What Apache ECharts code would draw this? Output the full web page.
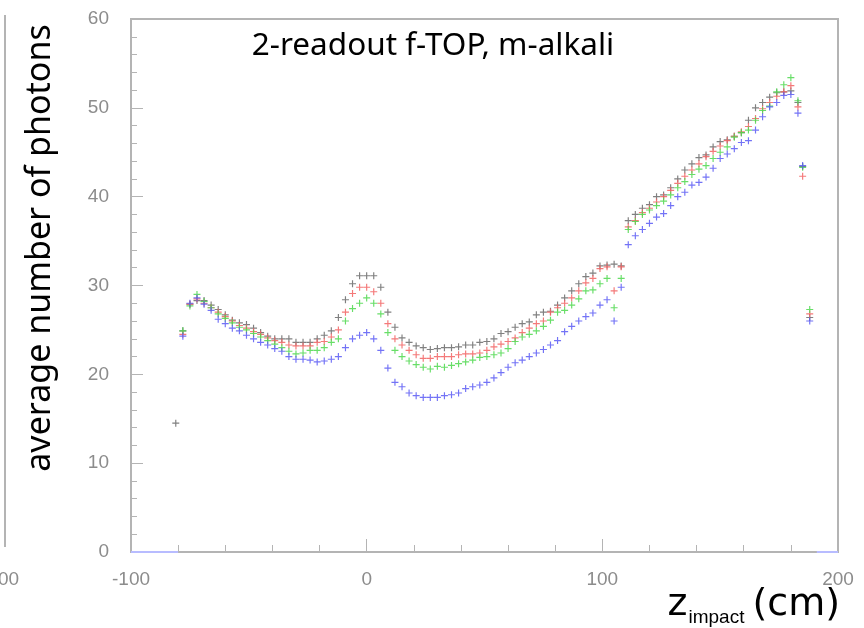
<!DOCTYPE html>
<html>
<head>
<meta charset="utf-8">
<script src="https://cdn.jsdelivr.net/npm/echarts@6/dist/echarts.min.js"></script>
<style>
  html, body { margin: 0; padding: 0; background: #fff; }
  #chart { width: 864px; height: 628px; }
</style>
</head>
<body>
<div id="chart"></div>
<script>
// z impact positions (cm)
var zPos = [-81, -78, -75, -72, -69, -66, -63, -60, -57, -54, -51, -48, -45, -42, -39, -36, -33, -30, -27, -24, -21, -18, -15, -12, -9, -6, -3, 0,
  3, 6, 9, 12, 15, 18, 21, 24, 27, 30, 33, 36, 39, 42, 45, 48, 51, 54, 57, 60, 63, 66, 69, 72, 75, 78, 81, 84, 87, 90, 93, 96, 99, 102, 105, 108,
  111, 114, 117, 120, 123, 126, 129, 132, 135, 138, 141, 144, 147, 150, 153, 156, 159, 162, 165, 168, 171, 174, 177, 180, 183, 185, 188];

// average number of photons, one list per configuration
var blackVals = [14.5, 24.9, 27.9, 28.3, 28.3, 27.8, 27.3, 26.7, 26.1, 25.8, 25.6, 25.2, 24.7, 24.3, 24.0, 24.0, 24.0, 23.6, 23.6, 23.6, 24.0, 24.4, 24.9, 26.4, 28.4, 30.2, 31.1, 31.1,
  31.1, 29.8, 27.0, 25.3, 24.1, 23.6, 23.2, 23.0, 22.8, 22.9, 23.0, 23.0, 23.1, 23.3, 23.3, 23.6, 23.7, 24.0, 24.6, 24.8, 25.3, 25.7, 25.9, 26.7, 27.0, 27.1, 27.8, 28.6, 29.4, 30.2, 31.0, 31.4, 32.2, 32.3, 32.4, 32.2,
  37.3, 38.0, 38.7, 39.1, 40.0, 40.2, 41.0, 42.0, 43.0, 43.7, 44.4, 44.7, 45.6, 46.2, 46.4, 46.8, 47.2, 48.6, 50.0, 50.6, 51.2, 51.7, 51.8, 51.9, 50.6, 43.4, 26.4];
var redVals = [null, 24.5, 27.9, 28.5, 28.0, 27.5, 27.0, 26.5, 26.0, 25.5, 25.2, 24.8, 24.5, 24.1, 23.8, 23.6, 23.3, 23.2, 23.2, 23.2, 23.6, 23.7, 24.2, 25.0, 27.0, 29.1, 29.8, 29.8,
  29.3, 28.0, 25.7, 24.0, 23.3, 22.7, 22.2, 21.8, 21.8, 22.0, 22.0, 22.0, 22.2, 22.3, 22.3, 22.4, 22.7, 23.1, 23.4, 23.7, 24.1, 24.7, 25.2, 25.7, 26.0, 27.0, 27.5, 28.0, 28.6, 29.4, 30.3, 30.8, 31.9, 32.1, 29.4, 32.1,
  36.6, 37.3, 38.2, 38.7, 39.4, 40.0, 40.7, 41.5, 42.3, 43.0, 43.7, 44.5, 45.1, 45.7, 46.3, 46.8, 47.3, 47.9, 48.8, 49.9, 50.6, 51.3, 51.8, 52.5, 50.1, 42.3, 26.8];
var greenVals = [null, 24.9, 27.7, 29.0, 28.2, 27.5, 26.8, 26.3, 25.8, 25.3, 25.0, 24.6, 24.2, 23.8, 23.4, 23.0, 22.6, 22.3, 22.4, 22.7, 22.7, 23.0, 23.6, 24.0, 26.0, 27.4, 28.0, 28.6,
  28.0, 26.8, 24.7, 22.7, 22.0, 21.5, 21.1, 20.8, 20.6, 20.9, 20.8, 21.0, 21.2, 21.4, 21.6, 21.9, 22.0, 22.2, 22.4, 22.9, 23.7, 24.2, 24.5, 24.9, 25.4, 26.1, 27.0, 27.2, 27.8, 28.5, 29.4, 29.5, 30.2, 30.8, 27.5, 30.8,
  36.3, 37.2, 38.0, 38.5, 39.0, 39.5, 40.2, 41.0, 41.7, 42.5, 43.1, 43.5, 44.3, 45.0, 45.6, 46.7, 47.2, 47.5, 48.6, 49.7, 50.2, 51.8, 52.6, 53.4, 50.8, 43.3, 27.3];
var blueVals = [null, 24.3, 28.0, 28.6, 27.9, 27.2, 26.2, 25.7, 25.2, 24.9, 24.4, 24.0, 23.6, 23.3, 22.9, 22.6, 22.0, 21.7, 21.7, 21.6, 21.4, 21.5, 21.7, 22.0, 23.0, 24.0, 24.4, 24.7,
  24.0, 22.7, 20.7, 19.1, 18.6, 17.9, 17.6, 17.4, 17.4, 17.4, 17.6, 17.7, 17.9, 18.4, 18.6, 18.8, 19.1, 19.6, 20.2, 20.8, 21.3, 21.6, 22.0, 22.4, 22.8, 23.3, 23.8, 24.8, 25.4, 26.0, 26.5, 26.9, 27.8, 28.4, 26.0, 29.8,
  34.6, 35.6, 36.3, 37.0, 37.7, 38.1, 39.0, 40.0, 40.5, 41.3, 41.6, 42.2, 43.2, 44.3, 44.8, 45.4, 46.1, 46.3, 47.5, 49.0, 50.1, 50.6, 51.4, 51.5, 49.4, 43.5, 26.0];

// empty bins drawn along zero at both ends
var emptyLeft = [-100, -80];
var emptyRight = [191, 200];

var xTicks = [-100, 200, 100];
var yTicks = [0, 60, 10];

function pairs(vals) {
  var out = [];
  for (var i = 0; i < zPos.length; i++) {
    if (vals[i] != null) out.push([zPos[i], vals[i]]);
  }
  return out;
}

var plus = 'path://M3,0h1.2v7.2h-1.2zM0,3h7.2v1.2h-7.2z';

function markSeries(name, vals, color) {
  return {
    name: name,
    type: 'scatter',
    data: pairs(vals),
    symbol: plus,
    symbolSize: 7,
    itemStyle: { color: color, opacity: 0.85 },
    silent: true,
    animation: false
  };
}

var labelFont = {
  color: '#8c8c8c',
  fontSize: 19,
  fontFamily: 'Liberation Sans Narrow, Liberation Sans, sans-serif'
};

var option = {
  backgroundColor: '#fff',
  grid: {
    left: 131, top: 19, right: 26, bottom: 76,
    show: true, borderColor: '#b4b4b4', borderWidth: 2
  },
  xAxis: {
    type: 'value',
    min: xTicks[0],
    max: xTicks[1],
    interval: xTicks[2],
    axisLine: { show: true, onZero: false, lineStyle: { color: '#b4b4b4', width: 2 } },
    axisTick: { show: true, inside: true, length: 13, lineStyle: { color: '#b4b4b4', width: 1 } },
    minorTick: { show: true, splitNumber: 5, length: 7, lineStyle: { color: '#b4b4b4', width: 1 } },
    splitLine: { show: false },
    axisLabel: Object.assign({ margin: 18 }, labelFont)
  },
  yAxis: {
    type: 'value',
    min: yTicks[0],
    max: yTicks[1],
    interval: yTicks[2],
    axisLine: { show: true, onZero: false, lineStyle: { color: '#b4b4b4', width: 2 } },
    axisTick: { show: true, inside: true, length: 12, lineStyle: { color: '#b4b4b4', width: 1 } },
    minorTick: { show: true, splitNumber: 5, length: 6, lineStyle: { color: '#b4b4b4', width: 1 } },
    splitLine: { show: false },
    axisLabel: Object.assign({ margin: 22 }, labelFont)
  },
  series: [
    {
      type: 'line',
      data: [[emptyLeft[0], 0], [emptyLeft[1], 0]],
      symbol: 'none',
      lineStyle: { color: '#b8bcff', width: 2 },
      silent: true,
      animation: false
    },
    {
      type: 'line',
      data: [[emptyRight[0], 0], [emptyRight[1], 0]],
      symbol: 'none',
      lineStyle: { color: '#b8bcff', width: 2 },
      silent: true,
      animation: false
    },
    markSeries('black', blackVals, '#6a6a6a'),
    markSeries('red', redVals, '#f26262'),
    markSeries('green', greenVals, '#4ed84e'),
    markSeries('blue', blueVals, '#5a5af5')
  ],
  graphic: [
    {
      type: 'text',
      x: 433, y: 46,
      style: {
        text: '2-readout f-TOP, m-alkali',
        fill: '#000',
        font: '31.5px "Noto Sans", "Open Sans", sans-serif',
        align: 'center',
        verticalAlign: 'middle'
      }
    },
    {
      type: 'text',
      x: 40, y: 248,
      rotation: Math.PI / 2,
      style: {
        text: 'average number of photons',
        fill: '#000',
        font: '34px "Noto Sans", "Open Sans", sans-serif',
        align: 'center',
        verticalAlign: 'middle'
      }
    },
    {
      type: 'text',
      x: 840, y: 605,
      style: {
        text: '{z|z}{sub|impact}{cm|(cm)}',
        align: 'right',
        verticalAlign: 'middle',
        rich: {
          z: { fontSize: 38, fontFamily: 'DejaVu Sans, sans-serif', color: '#000' },
          sub: { fontSize: 19, fontFamily: 'Liberation Sans Narrow, sans-serif', color: '#000', padding: [26, 0, 0, 1] },
          cm: { fontSize: 38, fontFamily: 'DejaVu Sans, sans-serif', color: '#000', padding: [0, 0, 0, 8] }
        }
      }
    },
    {
      type: 'rect',
      shape: { x: 4, y: 15, width: 2, height: 532 },
      style: { fill: '#b4b4b4' }
    },
    {
      type: 'text',
      left: -2, top: 570,
      style: { text: '00', fill: '#8c8c8c', font: '19px "Liberation Sans Narrow", sans-serif' }
    }
  ]
};

var chart = echarts.init(document.getElementById('chart'));
chart.setOption(option);
</script>
</body>
</html>
